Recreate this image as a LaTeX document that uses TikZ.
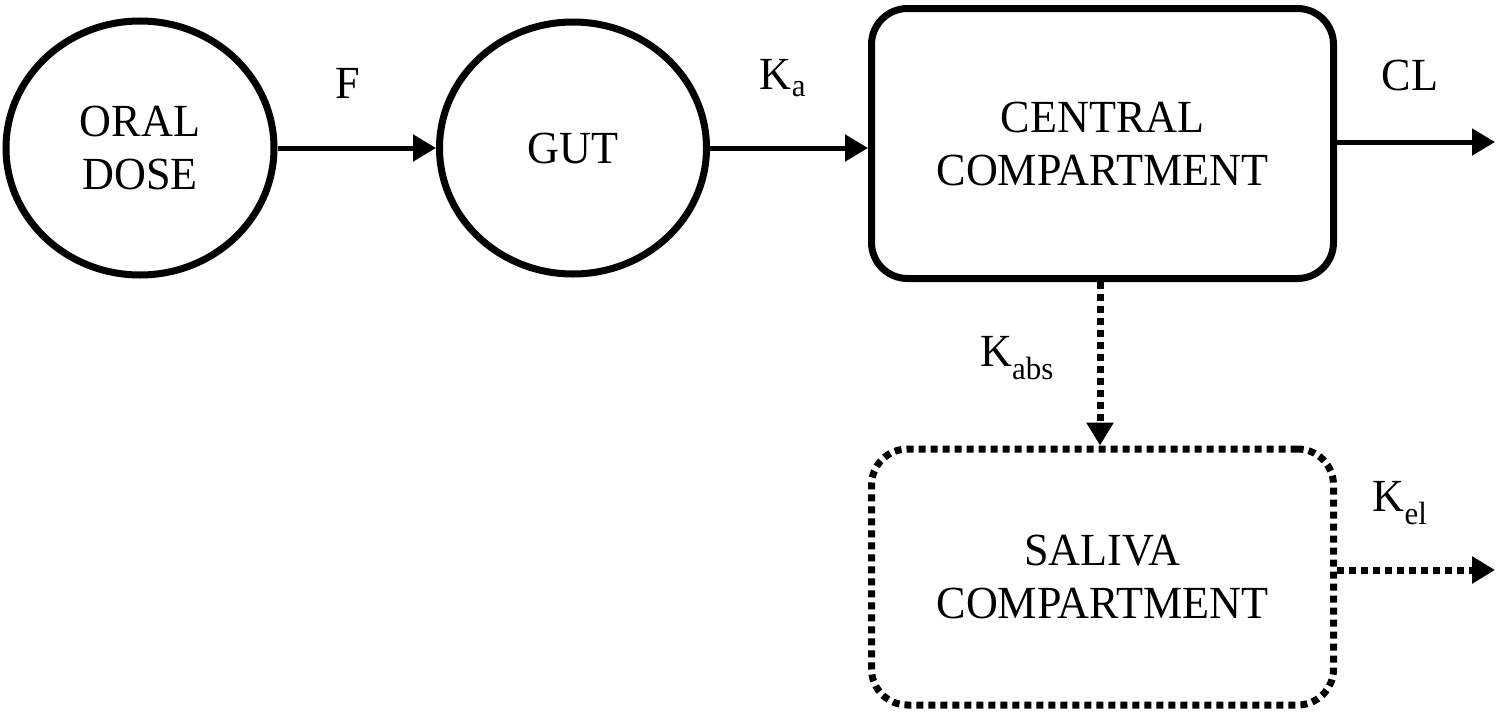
\documentclass[tikz,border=0pt]{standalone}
\usepackage{fontspec}
\setmainfont{Liberation Serif}
\usetikzlibrary{shapes.geometric,arrows.meta,positioning}
\newcommand{\nar}[1]{\scalebox{0.96}[1]{#1}}
\tikzset{
  comp/.style={ellipse,draw,line width=7pt,align=center,font=\fontsize{46}{53}\selectfont},
  box/.style={rectangle,draw,rounded corners=36pt,align=center,font=\fontsize{46}{53}\selectfont,
    minimum width=462pt,minimum height=270pt},
  dots/.style={line width=7pt,dash pattern=on 7pt off 5pt},
  flow/.style={line width=5pt,-{Triangle[length=23pt,width=26pt]}},
  lab/.style={font=\fontsize{46}{53}\selectfont,inner sep=0pt},
}
\begin{document}
\begin{tikzpicture}[x=1pt,y=-1pt]
\useasboundingbox (0,0) rectangle (1502,712);
\node[comp,minimum width=268pt,minimum height=254pt] (oral) at (140,148) {\nar{ORAL}\\\nar{DOSE}};
\node[comp,minimum width=267pt,minimum height=252pt] (gut) at (573,148) {\nar{GUT}};
\node[box,line width=7pt] (central) at (1102.5,143.5) {\nar{CENTRAL}\\\nar{COMPARTMENT}};
\node[box,dots,minimum height=256pt] (saliva) at (1102.5,577) {\nar{SALIVA}\\\nar{COMPARTMENT}};
\coordinate (clend) at (1495,142);
\coordinate (elend) at (1495,570);
\draw[flow] (oral.east) -- (gut.west);
\draw[flow] (gut.east) -- (gut.east -| central.west);
\draw[flow] (central.east |- clend) -- (clend);
\draw[flow,dots] (central.south -| 1100,0) -- (saliva.north -| 1100,0);
\draw[flow,dots] (saliva.east |- elend) -- (elend);
\node[lab] (F) at (348,83) {\nar{F}};
\node[lab] (ka) at (783,78) {\nar{K\textsubscript{a}}};
\node[lab] (cl) at (1410,75) {\nar{CL}};
\node[lab] (kabs) at (1017,358) {\nar{K\textsubscript{abs}}};
\node[lab] (kel) at (1400,503) {\nar{K\textsubscript{el}}};
\end{tikzpicture}
\end{document}
